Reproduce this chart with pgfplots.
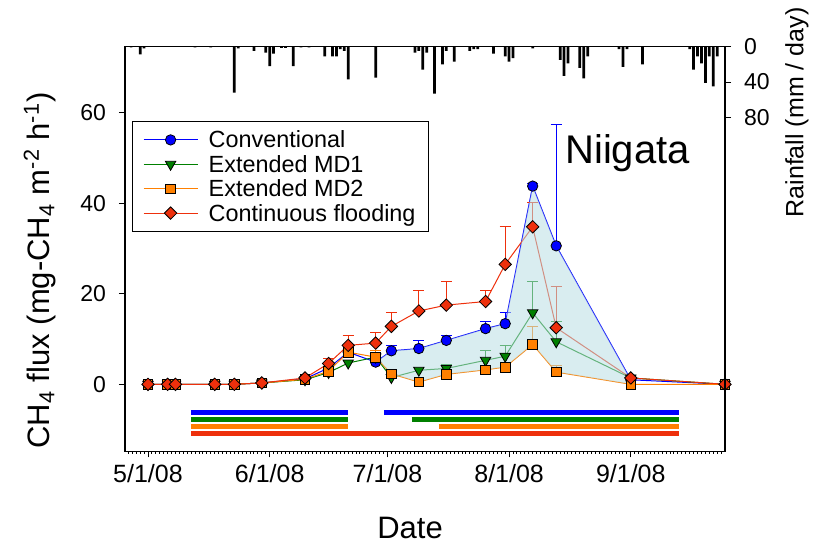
\documentclass[border=0pt]{standalone}
\usepackage{fontspec}
\setmainfont{Liberation Sans}
\usepackage{pgfplots}
\pgfplotsset{compat=1.18}
\usetikzlibrary{calc}

\definecolor{conv}{RGB}{0,0,255}
\definecolor{mdone}{RGB}{0,128,0}
\definecolor{mdtwo}{RGB}{255,128,0}
\definecolor{cflood}{RGB}{238,48,12}
\definecolor{shade}{RGB}{185,222,228}

\pgfplotsset{
  errs/.style={only marks, mark=*, mark size=0pt, forget plot,
    error bars/.cd, y dir=plus, y explicit,
    error mark=-,
    error bar style={solid, line width=0.5pt},
    error mark options={solid, rotate=90, mark size=2.75pt, line width=0.5pt}},
}

\begin{document}
\begin{tikzpicture}
\begin{axis}[
    name=main,
    scale only axis, width=300pt, height=202.5pt,
    xmin=-5.86, xmax=147, ymin=-14.85, ymax=74.65,
    clip=false,
    xtick={0,31,61,92,123},
    xticklabels={5/1/08,6/1/08,7/1/08,8/1/08,9/1/08},
    minor xtick={-5,-4,...,146},
    ytick={0,20,40,60},
    xtick pos=left, ytick pos=left,
    tick align=outside,
    major tick length=3pt, minor tick length=1.2pt,
    tick style={black, line width=0.5pt},
    axis line style={black, line width=0.6pt},
    /pgf/number format/assume math mode=true,
    yticklabel style={font=\fontsize{11.5}{12}\selectfont, xshift=-3pt},
    xticklabel style={font=\fontsize{12.5}{13}\selectfont},
    xlabel={Date},
    ylabel={CH\textsubscript{4} flux (mg-CH\textsubscript{4} m\textsuperscript{-2} h\textsuperscript{-1})},
    label style={font=\fontsize{15.5}{16}\selectfont},
    xlabel style={at={(axis description cs:0.475,-0.188)}, anchor=center},
    ylabel style={at={(axis description cs:-0.142,0.447)}, anchor=center},
    legend style={at={(rel axis cs:0.011,0.817)}, anchor=north west,
      draw=black, line width=0.5pt,
      font=\fontsize{11.7}{12}\selectfont,
      inner xsep=5.5pt, inner ysep=3.3pt,
      column sep=4.5pt, row sep=0pt,
      nodes={inner xsep=0.8pt, inner ysep=1.1pt, text height=9pt, text depth=1pt}},
    legend cell align=left,
    legend image code/.code={
      \draw[mark repeat=2, mark phase=2] plot coordinates {(0pt,0pt) (13.5pt,0pt) (27pt,0pt)};},
]

% treatment periods (flooded)
\addplot[conv, line width=2.6pt, forget plot] coordinates {(10.9,-6.3) (50.9,-6.3)};
\addplot[conv, line width=2.6pt, forget plot] coordinates {(60.1,-6.3) (135.2,-6.3)};
\addplot[mdone, line width=2.6pt, forget plot] coordinates {(10.9,-7.8) (50.9,-7.8)};
\addplot[mdone, line width=2.6pt, forget plot] coordinates {(67.2,-7.8) (135.2,-7.8)};
\addplot[mdtwo, line width=2.6pt, forget plot] coordinates {(10.9,-9.3) (50.9,-9.3)};
\addplot[mdtwo, line width=2.6pt, forget plot] coordinates {(74.1,-9.3) (135.2,-9.3)};
\addplot[cflood, line width=2.6pt, forget plot] coordinates {(10.9,-10.9) (135.2,-10.9)};

% Conventional
\addplot[conv, errs] table[x=d, y=v, y error=e] {
d v e
62 7.4 1.1
69 7.9 1.7
76 9.7 1.1
86 12.3 1.6
91 13.4 2.4
98 43.8 0.5
104 30.6 26.8
};
\addplot[conv, line width=0.5pt, mark=*, mark size=2.6pt,
  mark options={solid, fill=conv, draw=black, line width=0.4pt}] coordinates {
(0,0) (5,0) (7,0) (17,0) (22,0) (29,0.3) (40,1.2) (46,3.6) (51,7.1) (58,4.9)
(62,7.4) (69,7.9) (76,9.7) (86,12.3) (91,13.4) (98,43.8) (104,30.6) (123,1.0) (147,0)
};
\addlegendentry{Conventional}

% Extended MD1
\addplot[mdone, errs] table[x=d, y=v, y error=e] {
d v e
76 3.5 0.8
86 5.3 2.1
91 6.2 2.3
98 15.8 7.0
104 9.4 4.5
};
\addplot[mdone, line width=0.5pt, mark=triangle*, mark size=3pt,
  mark options={solid, rotate=180, fill=mdone, draw=black, line width=0.4pt}] coordinates {
(0,0) (5,0) (7,0) (17,0) (22,0) (29,0.3) (40,1.0) (46,2.6) (51,4.7) (58,6.0)
(62,1.5) (69,3.1) (76,3.5) (86,5.3) (91,6.2) (98,15.8) (104,9.4) (123,1.4) (147,0)
};
\addlegendentry{Extended MD1}

% Extended MD2
\addplot[mdtwo, errs] table[x=d, y=v, y error=e] {
d v e
58 6.0 1.5
98 8.8 3.9
104 2.7 1.5
};
\addplot[mdtwo, line width=0.5pt, mark=square*, mark size=2.4pt,
  mark options={solid, fill=mdtwo, draw=black, line width=0.4pt}] coordinates {
(0,0) (5,0) (7,0) (17,0) (22,0) (29,0.3) (40,1.1) (46,2.9) (51,7.1) (58,6.0)
(62,2.3) (69,0.5) (76,2.2) (86,3.2) (91,3.8) (98,8.8) (104,2.7) (123,0) (147,0)
};
\addlegendentry{Extended MD2}

% Continuous flooding
\addplot[cflood, errs] table[x=d, y=v, y error=e] {
d v e
46 4.6 1.1
51 8.6 2.1
58 9.1 2.3
62 12.8 3.0
69 16.2 4.6
76 17.5 5.3
86 18.3 2.5
91 26.5 8.4
98 34.8 5.4
104 12.5 9.2
};
\addplot[cflood, line width=0.5pt, mark=square*, mark size=2.2pt,
  mark options={solid, rotate=45, fill=cflood, draw=black, line width=0.4pt}] coordinates {
(0,0) (5,0) (7,0) (17,0) (22,0) (29,0.3) (40,1.4) (46,4.6) (51,8.6) (58,9.1)
(62,12.8) (69,16.2) (76,17.5) (86,18.3) (91,26.5) (98,34.8) (104,12.5) (123,1.4) (147,0)
};
\addlegendentry{Continuous flooding}

% shaded band between Conventional and Extended MD2
\addplot[fill=shade, fill opacity=0.55, draw=none, forget plot] coordinates {
(58,4.9) (62,7.4) (69,7.9) (76,9.7) (86,12.3) (91,13.4) (98,43.8) (104,30.6) (123,1.0)
(123,0) (104,2.7) (98,8.8) (91,3.8) (86,3.2) (76,2.2) (69,0.5) (62,2.3) (58,6.0)
} -- cycle;

\node[anchor=base west, font=\fontsize{20}{24}\selectfont] at (rel axis cs:0.722,0.711) {Niigata};
\end{axis}

\begin{axis}[
    scale only axis, width=300pt, height=202.5pt,
    xmin=-5.86, xmax=147, ymin=0, ymax=456, y dir=reverse,
    axis x line=none, axis y line*=right,
    ytick={0,40,80},
    tick align=outside, major tick length=3pt,
    tick style={black, line width=0.5pt},
    axis line style={black, line width=0.6pt},
    /pgf/number format/assume math mode=true,
    yticklabel style={font=\fontsize{11.5}{12}\selectfont, xshift=3pt},
    ylabel={Rainfall (mm / day)},
    ylabel style={at={(axis description cs:1.12,0.837)}, anchor=center,
      font=\fontsize{12.5}{13}\selectfont},
    ybar, bar width=0.7,
]
\addplot[fill=black, draw=none] coordinates {
(-4.3,1) (-2,9) (-1,2) (12,1) (16,1) (22,52) (23,2) (27,5) (30,7) (31,22) (32,8)
(34,1.5) (35,1.5) (37,22) (39,1) (41,1) (45,11) (47,11) (48,11) (49,3) (50,5)
(51,37) (58,35) (68,7) (69,5) (70,26) (71,7) (73,53) (75,20) (76,5) (78,17)
(82,5) (83,3) (84,3) (88,8) (91,11) (92,17) (93,13) (98,2) (105,15) (106,33)
(107,19) (110,24) (111,36) (112,11) (120,3) (121,23) (122,3) (126,20) (138,3)
(139,26) (140,11) (141,19) (142,41) (143,11) (144,45) (145,11)
};
\end{axis}

\pgfresetboundingbox
\path[use as bounding box] ($(main.south west)+(-62.5pt,-46.75pt)$) rectangle ($(main.north east)+(44.5pt,23.25pt)$);
\end{tikzpicture}
\end{document}
